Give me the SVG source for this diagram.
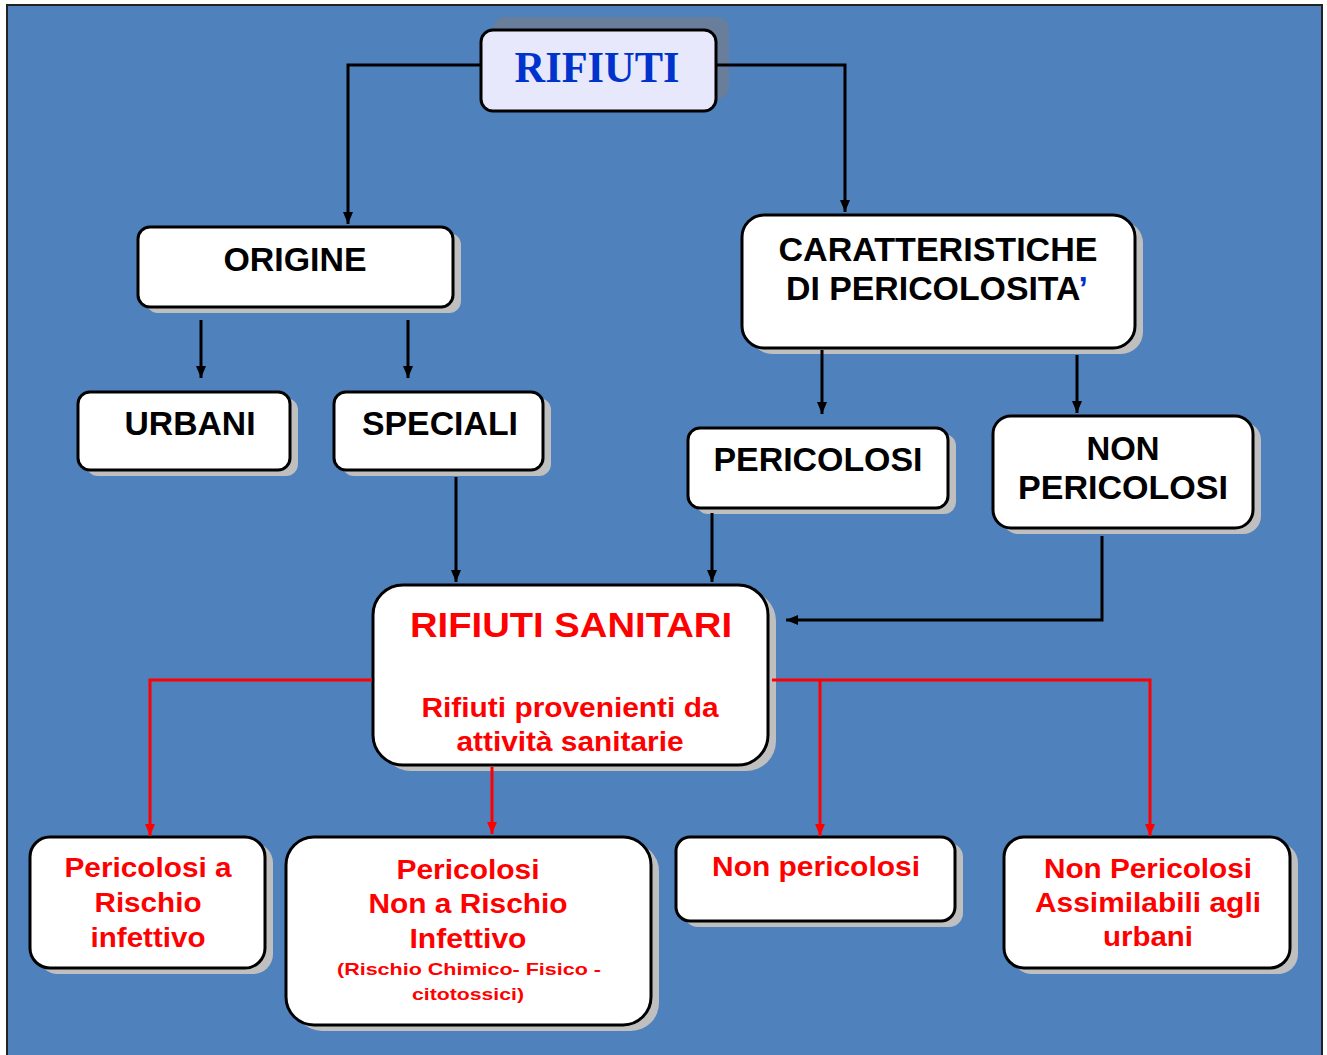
<svg xmlns="http://www.w3.org/2000/svg" width="1327" height="1055" viewBox="0 0 1327 1055">
<defs>
<style>
.box{fill:#ffffff;stroke:#000;stroke-width:3}
.sh{fill:#bfbfbf}
.bl{font-family:"Liberation Sans",Arial,sans-serif;font-weight:bold;font-size:33px;fill:#000;text-anchor:middle}
.rd{font-family:"Liberation Sans",Arial,sans-serif;font-weight:bold;font-size:27px;fill:#ff0000;text-anchor:middle}
.rt{font-family:"Liberation Sans",Arial,sans-serif;font-weight:bold;font-size:35px;fill:#ff0000;text-anchor:middle}
.rs{font-family:"Liberation Sans",Arial,sans-serif;font-weight:bold;font-size:17px;fill:#ff0000;text-anchor:middle}
.kl{fill:none;stroke:#000;stroke-width:3}
.rl{fill:none;stroke:#ff0000;stroke-width:3}
</style>
<marker id="ak" viewBox="0 0 12 10" refX="12" refY="5" markerWidth="12" markerHeight="10" markerUnits="userSpaceOnUse" orient="auto"><path d="M0,0 L12,5 L0,10 z" fill="#000"/></marker>
<marker id="ar" viewBox="0 0 12 10" refX="12" refY="5" markerWidth="12" markerHeight="10" markerUnits="userSpaceOnUse" orient="auto"><path d="M0,0 L12,5 L0,10 z" fill="#ff0000"/></marker>
</defs>
<rect x="0" y="0" width="1327" height="1055" fill="#ffffff"/>
<rect x="7" y="5" width="1315" height="1055" fill="#4f81bd" stroke="#222" stroke-width="2"/>

<g id="rifiuti">
<rect x="493" y="17" width="236" height="82" rx="12" fill="#687e9a"/>
<rect x="481" y="30" width="235" height="81" rx="12" fill="#e8e8fc" stroke="#000" stroke-width="3"/>
<text x="597" y="82" font-family="'Liberation Serif','Times New Roman',serif" font-weight="bold" font-size="44" fill="#0033cc" text-anchor="middle" textLength="165" lengthAdjust="spacingAndGlyphs">RIFIUTI</text>
</g>

<g id="origine">
<rect class="sh" x="146" y="233" width="315" height="80" rx="12"/>
<rect class="box" x="138" y="227" width="315" height="80" rx="12"/>
<text class="bl" x="295" y="271" textLength="143" lengthAdjust="spacingAndGlyphs">ORIGINE</text>
</g>

<g id="urbani">
<rect class="sh" x="86" y="398" width="212" height="78" rx="12"/>
<rect class="box" x="78" y="392" width="212" height="78" rx="12"/>
<text class="bl" x="190" y="435" textLength="131" lengthAdjust="spacingAndGlyphs">URBANI</text>
</g>

<g id="speciali">
<rect class="sh" x="342" y="398" width="209" height="78" rx="12"/>
<rect class="box" x="334" y="392" width="209" height="78" rx="12"/>
<text class="bl" x="440" y="435" textLength="156" lengthAdjust="spacingAndGlyphs">SPECIALI</text>
</g>

<g id="caratteristiche">
<rect class="sh" x="750" y="221" width="393" height="133" rx="22"/>
<rect class="box" x="742" y="215" width="393" height="133" rx="22"/>
<text class="bl" x="938" y="261" textLength="319" lengthAdjust="spacingAndGlyphs">CARATTERISTICHE</text>
<text class="bl" x="937" y="300" textLength="302" lengthAdjust="spacingAndGlyphs">DI PERICOLOSITA<tspan fill="#0033cc">’</tspan></text>
</g>

<g id="pericolosi">
<rect class="sh" x="696" y="434" width="260" height="80" rx="12"/>
<rect class="box" x="688" y="428" width="260" height="80" rx="12"/>
<text class="bl" x="818" y="471" textLength="209" lengthAdjust="spacingAndGlyphs">PERICOLOSI</text>
</g>

<g id="non-pericolosi">
<rect class="sh" x="1001" y="422" width="260" height="112" rx="18"/>
<rect class="box" x="993" y="416" width="260" height="112" rx="18"/>
<text class="bl" x="1123" y="460" textLength="73" lengthAdjust="spacingAndGlyphs">NON</text>
<text class="bl" x="1123" y="499" textLength="210" lengthAdjust="spacingAndGlyphs">PERICOLOSI</text>
</g>

<g id="rifiuti-sanitari">
<rect class="sh" x="381" y="591" width="395" height="180" rx="30"/>
<rect class="box" x="373" y="585" width="395" height="180" rx="30"/>
<text class="rt" x="571" y="637" textLength="322" lengthAdjust="spacingAndGlyphs">RIFIUTI SANITARI</text>
<text class="rd" x="570" y="717" textLength="297" lengthAdjust="spacingAndGlyphs">Rifiuti provenienti da</text>
<text class="rd" x="570" y="751" textLength="227" lengthAdjust="spacingAndGlyphs">attività sanitarie</text>
</g>

<g id="rischio-infettivo">
<rect class="sh" x="38" y="843" width="235" height="131" rx="20"/>
<rect class="box" x="30" y="837" width="235" height="131" rx="20"/>
<text class="rd" x="148" y="877" textLength="167" lengthAdjust="spacingAndGlyphs">Pericolosi a</text>
<text class="rd" x="148" y="912" textLength="107" lengthAdjust="spacingAndGlyphs">Rischio</text>
<text class="rd" x="148" y="947" textLength="115" lengthAdjust="spacingAndGlyphs">infettivo</text>
</g>

<g id="non-rischio-infettivo">
<rect class="sh" x="294" y="843" width="365" height="188" rx="28"/>
<rect class="box" x="286" y="837" width="365" height="188" rx="28"/>
<text class="rd" x="468" y="879" textLength="143" lengthAdjust="spacingAndGlyphs">Pericolosi</text>
<text class="rd" x="468" y="913" textLength="199" lengthAdjust="spacingAndGlyphs">Non a Rischio</text>
<text class="rd" x="468" y="948" textLength="117" lengthAdjust="spacingAndGlyphs">Infettivo</text>
<text class="rs" x="469" y="975" textLength="264" lengthAdjust="spacingAndGlyphs">(Rischio Chimico- Fisico -</text>
<text class="rs" x="468" y="1000" textLength="112" lengthAdjust="spacingAndGlyphs">citotossici)</text>
</g>

<g id="non-pericolosi-2">
<rect class="sh" x="684" y="843" width="279" height="84" rx="14"/>
<rect class="box" x="676" y="837" width="279" height="84" rx="14"/>
<text class="rd" x="816" y="876" textLength="208" lengthAdjust="spacingAndGlyphs">Non pericolosi</text>
</g>

<g id="assimilabili">
<rect class="sh" x="1012" y="843" width="286" height="131" rx="20"/>
<rect class="box" x="1004" y="837" width="286" height="131" rx="20"/>
<text class="rd" x="1148" y="878" textLength="208" lengthAdjust="spacingAndGlyphs">Non Pericolosi</text>
<text class="rd" x="1148" y="912" textLength="226" lengthAdjust="spacingAndGlyphs">Assimilabili agli</text>
<text class="rd" x="1148" y="946" textLength="90" lengthAdjust="spacingAndGlyphs">urbani</text>
</g>

<g id="connectors">
<path class="kl" d="M481,65 H348 V224" marker-end="url(#ak)"/>
<path class="kl" d="M717,65 H845 V212" marker-end="url(#ak)"/>
<path class="kl" d="M201,320 V378" marker-end="url(#ak)"/>
<path class="kl" d="M408,320 V378" marker-end="url(#ak)"/>
<path class="kl" d="M822,350 V414" marker-end="url(#ak)"/>
<path class="kl" d="M1077,355 V413" marker-end="url(#ak)"/>
<path class="kl" d="M456,477 V582" marker-end="url(#ak)"/>
<path class="kl" d="M712,513 V582" marker-end="url(#ak)"/>
<path class="kl" d="M1102,536 V620 H786" marker-end="url(#ak)"/>
<path class="rl" d="M372,680 H150 V836" marker-end="url(#ar)"/>
<path class="rl" d="M492,767 V834" marker-end="url(#ar)"/>
<path class="rl" d="M772,680 H1150 V836" marker-end="url(#ar)"/>
<path class="rl" d="M820,680 V836" marker-end="url(#ar)"/>
</g>
</svg>
